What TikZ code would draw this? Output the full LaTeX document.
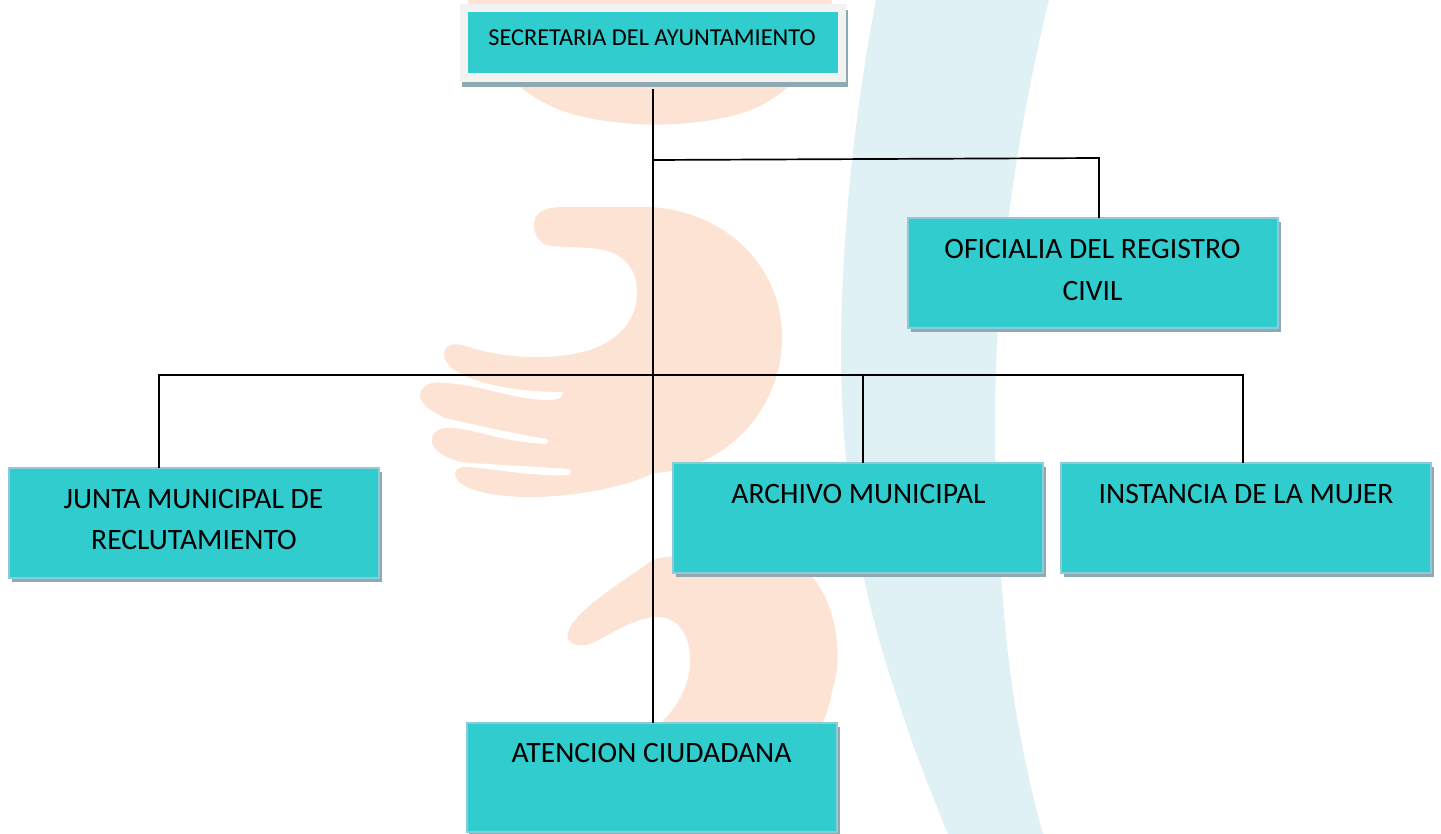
\documentclass[tikz,border=0pt]{standalone}
\usepackage{fontspec}
\setmainfont{Carlito}
\usetikzlibrary{shadows}
\definecolor{boxteal}{HTML}{31CCCD}
\definecolor{boxedge}{HTML}{8CCBDA}
\definecolor{boxshade}{HTML}{8FA9B3}
\definecolor{framegray}{HTML}{F2F2F2}
\definecolor{washorange}{HTML}{FDE3D3}
\definecolor{washblue}{HTML}{DFF1F4}
\tikzset{
  orgbox/.style={rectangle,fill=boxteal,draw=boxedge,line width=2pt,outer sep=0pt,inner sep=0pt,
    minimum width=370pt,minimum height=110pt,
    drop shadow={shadow xshift=3pt,shadow yshift=-4pt,opacity=1,fill=boxshade}},
  framebox/.style={rectangle,fill=boxteal,draw=framegray,line width=8.5pt,outer sep=0pt,inner sep=0pt,
    minimum width=378pt,minimum height=69.5pt},
  lab/.style={anchor=base,inner sep=0pt,font=\fontsize{29.6}{30}\selectfont,text=black},
  smalllab/.style={anchor=base,inner sep=0pt,font=\fontsize{24.3}{26}\selectfont,text=black},
  wire/.style={draw=black,line width=1.7pt},
  trunkwire/.style={draw=black,line width=2.3pt},
  gap/.style={fill=white,draw=none}
}
\begin{document}
\begin{tikzpicture}[x=1pt,y=-1pt]
\useasboundingbox (0,0) rectangle (1441,834);
\fill[white] (0,0) rectangle (1441,834);
% watermark: crescent
\fill[washblue] (876,0) .. controls (855,110) and (842,230) .. (841,345)
  .. controls (841,480) and (860,590) .. (898,700)
  .. controls (912,745) and (930,790) .. (948,834)
  -- (1043,834) .. controls (1028,780) and (1010,700) .. (1003,600)
  .. controls (995,510) and (993,420) .. (997,345)
  .. controls (1003,230) and (1022,110) .. (1049,0) -- cycle;
% watermark: top blob
\fill[washorange] (468,0) .. controls (480,50) and (510,90) .. (560,110)
  .. controls (610,128) and (690,130) .. (745,112)
  .. controls (795,95) and (825,50) .. (832,0) -- cycle;
% watermark: middle hand
\fill[washorange] (534,225) .. controls (534,212) and (545,207) .. (565,207)
  -- (650,207) .. controls (730,212) and (782,270) .. (782,337)
  .. controls (782,410) and (725,470) .. (653,473)
  .. controls (625,488) and (570,497) .. (530,497)
  .. controls (495,497) and (455,490) .. (455,473)
  .. controls (456,468) and (462,466) .. (470,467)
  -- (460,462) .. controls (440,456) and (430,447) .. (432,438)
  .. controls (434,430) and (442,427) .. (455,428)
  -- (445,418) .. controls (428,410) and (419,402) .. (420,394)
  .. controls (423,384) and (432,381) .. (445,383)
  -- (470,378) .. controls (455,372) and (445,365) .. (444,355)
  .. controls (444,345) and (452,343) .. (462,345)
  .. controls (500,358) and (550,362) .. (590,350)
  .. controls (625,338) and (637,315) .. (637,292)
  .. controls (637,265) and (620,250) .. (590,248)
  -- (550,246) .. controls (540,244) and (534,235) .. (534,225) -- cycle;
% gaps between the fingers
\fill[gap] (445,383) -- (470,378) .. controls (495,388) and (530,392) .. (563,392)
  .. controls (564,398) and (555,401) .. (543,400)
  .. controls (510,398) and (480,385) .. (445,383) -- cycle;
\fill[gap] (445,418) -- (455,428) .. controls (480,431) and (505,442) .. (546,444)
  .. controls (549,442) and (549,440) .. (547,439)
  .. controls (510,433) and (480,426) .. (445,418) -- cycle;
\fill[gap] (460,462) -- (470,467) .. controls (500,470) and (540,477) .. (568,475)
  .. controls (572,473) and (572,470) .. (568,469)
  .. controls (530,466) and (495,465) .. (460,462) -- cycle;
% watermark: bottom hand
\fill[washorange] (568,632) .. controls (575,610) and (625,580) .. (653,560)
  .. controls (680,550) and (770,560) .. (810,575)
  .. controls (835,600) and (842,650) .. (835,680)
  .. controls (830,700) and (828,712) .. (822,724)
  -- (660,724) .. controls (680,705) and (692,680) .. (690,655)
  .. controls (688,630) and (675,615) .. (653,617)
  .. controls (630,620) and (610,635) .. (590,644)
  .. controls (575,648) and (565,642) .. (568,632) -- cycle;
% top box shadow
\fill[boxshade] (462,10) rectangle (848,87);
% boxes
\node[framebox] (sec) at (653,43) {};
\node[orgbox] (reg) at (1093,273) {};
\node[orgbox] (jun) at (194,523) {};
\node[orgbox] (arc) at (858,518) {};
\node[orgbox] (ins) at (1246,518) {};
\node[orgbox,minimum height=109pt,
  drop shadow={shadow xshift=2pt,shadow yshift=-4pt,opacity=1,fill=boxshade}] (ate) at (651.5,777.5) {};
% texts
\node[smalllab] (tsec) at (652,46) {SECRETARIA DEL AYUNTAMIENTO};
\node[lab] (treg1) at (1092.5,259) {OFICIALIA DEL REGISTRO};
\node[lab] (treg2) at (1092.5,301) {CIVIL};
\node[lab] (tjun1) at (193.5,508) {JUNTA MUNICIPAL DE};
\node[lab] (tjun2) at (194,549) {RECLUTAMIENTO};
\node[lab] (tarc) at (858.5,503) {ARCHIVO MUNICIPAL};
\node[lab] (tins) at (1246,503) {INSTANCIA DE LA MUJER};
\node[lab] (tate) at (651.5,762) {ATENCION CIUDADANA};
% connector junctions
\coordinate (trunktop) at (653,89);
\coordinate (j1) at (653,160);
\coordinate (j2) at (1099,158);
\coordinate (hl) at (159,375);
\coordinate (hr) at (1243,375);
\coordinate (hm) at (863,375);
% connectors
\draw[trunkwire] (trunktop) -- (trunktop |- ate.north);
\draw[wire] (j1) -- (j2) -- (j2 |- reg.north);
\draw[wire] (hl |- jun.north) -- (hl) -- (hr) -- (hr |- ins.north);
\draw[wire] (hm) -- (hm |- arc.north);
\end{tikzpicture}
\end{document}
